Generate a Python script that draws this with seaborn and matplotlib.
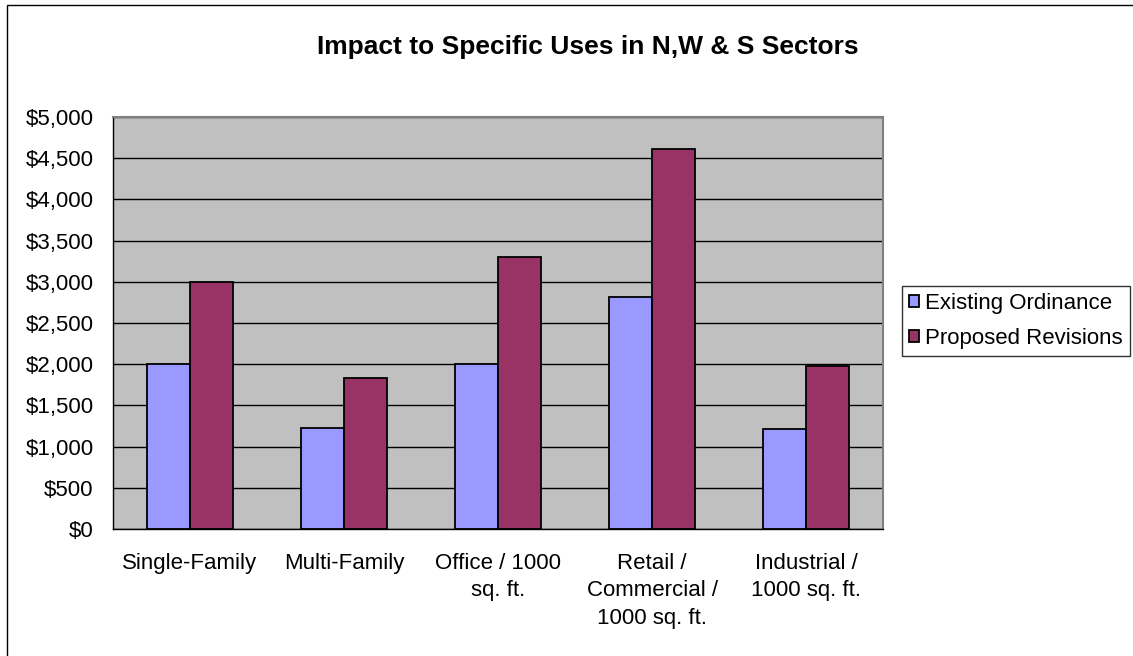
import pandas as pd
import matplotlib.pyplot as plt
import seaborn as sns
from matplotlib.patches import Rectangle
from matplotlib.ticker import FuncFormatter

# chart data
uses = ['Single-Family', 'Multi-Family', 'Office / 1000\nsq. ft.',
        'Retail /\nCommercial /\n1000 sq. ft.', 'Industrial /\n1000 sq. ft.']
existing = [2000, 1230, 2000, 2815, 1210]
proposed = [3000, 1835, 3300, 4610, 1980]
series = ['Existing Ordinance', 'Proposed Revisions']

df = pd.DataFrame({'use': uses * 2,
                   'fee': existing + proposed,
                   'series': [series[0]] * len(uses) + [series[1]] * len(uses)})

sns.set_style('white')
plt.rcParams['font.family'] = ['Liberation Sans', 'DejaVu Sans']
plt.rcParams['text.color'] = 'black'
plt.rcParams['xtick.color'] = 'black'
plt.rcParams['ytick.color'] = 'black'

fig = plt.figure(figsize=(11.33, 6.56), dpi=100)
ax = fig.add_axes([113 / 1133, 1 - 529 / 656, 770 / 1133, 412 / 656])
ax.set_facecolor('#C0C0C0')

sns.barplot(data=df, x='use', y='fee', hue='series', ax=ax,
            palette=['#9999FF', '#993366'], saturation=1, width=0.563,
            edgecolor='black', linewidth=1.3, legend=True)

ax.set_ylim(0, 5000)
ax.set_xlim(-0.5, len(uses) - 0.5)
ax.set_yticks(range(0, 5001, 500))
ax.yaxis.set_major_formatter(FuncFormatter(lambda v, p: '${:,.0f}'.format(v)))
ax.grid(axis='y', color='black', linewidth=1)
ax.set_axisbelow(True)
ax.set_xlabel('')
ax.set_ylabel('')

# ticks between categories
ax.set_xticks([i - 0.5 for i in range(len(uses) + 1)], minor=True)
ax.tick_params(axis='x', which='major', length=0, pad=17, labelsize=16)
ax.tick_params(axis='x', which='minor', length=7, width=1, color='black', direction='out')
ax.tick_params(axis='y', length=7, width=1, color='black', direction='out', labelsize=16, pad=7)
for lbl in ax.get_xticklabels():
    lbl.set_linespacing(1.42)

for side in ['left', 'bottom']:
    ax.spines[side].set_color('black')
    ax.spines[side].set_linewidth(1)
for side in ['top', 'right']:
    ax.spines[side].set_color('#808080')
    ax.spines[side].set_linewidth(1.5)

handles, labels = ax.get_legend_handles_labels()
ax.get_legend().remove()
leg = fig.legend(handles, labels, loc='upper left',
                 bbox_to_anchor=(902 / 1133, 1 - 286 / 656),
                 frameon=True, fancybox=False, edgecolor='black', fontsize=16,
                 handlelength=0.45, handleheight=0.45, handletextpad=0.3,
                 borderpad=0.3, labelspacing=0.65, borderaxespad=0)
leg.get_frame().set_linewidth(1)

fig.text(588 / 1133, 1 - 47 / 656, 'Impact to Specific Uses in N,W & S Sectors',
         ha='center', va='center', fontsize=19, fontweight='bold')

# chart border (runs off the right and bottom of the image)
fig.patches.append(Rectangle((7 / 1133, -0.05), 1.1, 1 - 5 / 656 + 0.05,
                             transform=fig.transFigure, fill=False,
                             edgecolor='black', linewidth=1))

fig.savefig('out.png', dpi=100)
